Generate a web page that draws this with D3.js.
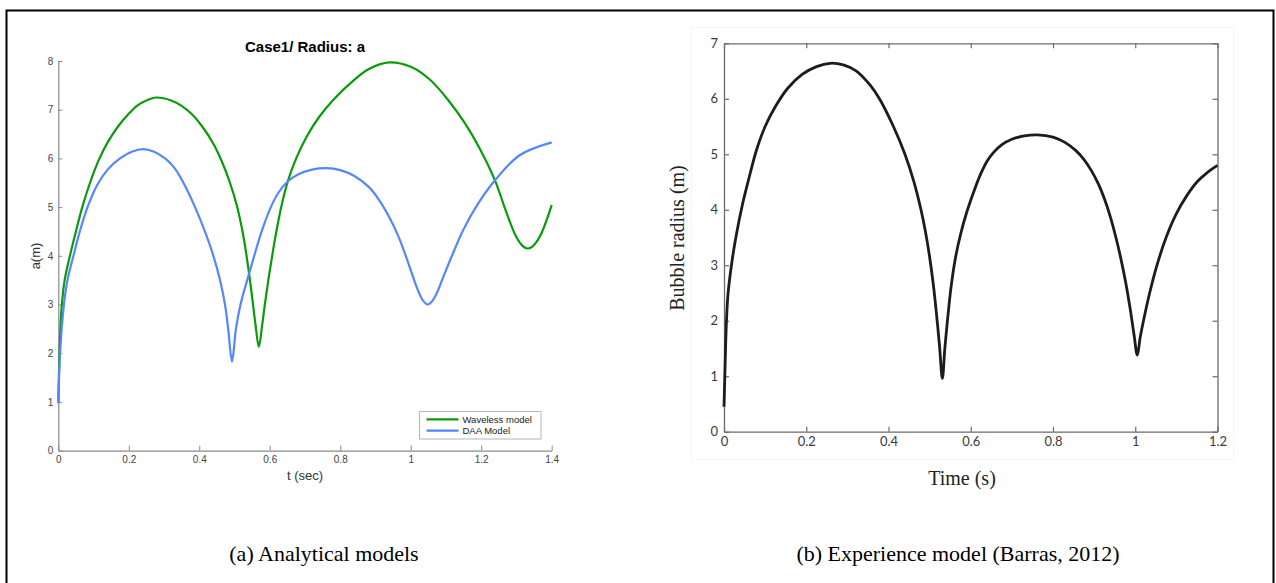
<!DOCTYPE html>
<html>
<head>
<meta charset="utf-8">
<script src="https://cdn.jsdelivr.net/npm/d3@7"></script>
<style>
  body { margin: 0; background: #fff; }
  svg { display: block; }
</style>
</head>
<body>
<div id="chart"></div>
<script>
// ---- data ----
// (a) analytical models
var wavelessT = [0, 0.004, 0.009, 0.018, 0.033, 0.05, 0.068, 0.09, 0.115, 0.14, 0.17, 0.198, 0.225, 0.25, 0.279, 0.32, 0.35, 0.38, 0.41, 0.44, 0.465, 0.487, 0.506, 0.52, 0.531, 0.541, 0.55, 0.559, 0.569, 0.578, 0.587, 0.597, 0.608, 0.62, 0.634, 0.652, 0.675, 0.705, 0.74, 0.78, 0.83, 0.88, 0.939, 1.0, 1.054, 1.106, 1.154, 1.196, 1.239, 1.272, 1.30, 1.318, 1.331, 1.345, 1.366, 1.40];
var wavelessA = [1.0, 2.1, 2.9, 3.5, 4.0, 4.5, 5.0, 5.5, 5.97, 6.33, 6.66, 6.9, 7.09, 7.19, 7.25, 7.19, 7.08, 6.9, 6.64, 6.3, 5.92, 5.5, 5.05, 4.6, 4.15, 3.65, 3.15, 2.62, 2.13, 2.55, 3.05, 3.55, 4.05, 4.55, 5.05, 5.55, 6.0, 6.45, 6.85, 7.2, 7.55, 7.83, 7.97, 7.88, 7.62, 7.2, 6.72, 6.2, 5.55, 4.88, 4.38, 4.2, 4.15, 4.19, 4.39, 5.04];

var daaT = [0, 0.005, 0.016, 0.026, 0.043, 0.061, 0.083, 0.11, 0.14, 0.175, 0.21, 0.241, 0.27, 0.303, 0.33, 0.355, 0.388, 0.416, 0.44, 0.459, 0.473, 0.482, 0.493, 0.504, 0.517, 0.536, 0.556, 0.577, 0.603, 0.625, 0.65, 0.68, 0.72, 0.761, 0.80, 0.84, 0.88, 0.91, 0.94, 0.965, 0.985, 1.005, 1.02, 1.035, 1.048, 1.06, 1.075, 1.09, 1.117, 1.149, 1.192, 1.239, 1.31, 1.40];
var daaA = [0.97, 2.0, 3.0, 3.5, 4.0, 4.5, 5.0, 5.45, 5.77, 6.0, 6.14, 6.19, 6.14, 6.0, 5.8, 5.5, 5.0, 4.5, 4.0, 3.5, 3.0, 2.5, 1.83, 2.5, 3.0, 3.5, 4.0, 4.5, 5.0, 5.3, 5.52, 5.67, 5.77, 5.80, 5.76, 5.64, 5.42, 5.15, 4.78, 4.4, 4.02, 3.6, 3.3, 3.08, 3.0, 3.06, 3.25, 3.52, 4.0, 4.53, 5.08, 5.55, 6.07, 6.33];

var leftXTicks = [0, 0.2, 0.4, 0.6, 0.8, 1, 1.2, 1.4];
var leftYTicks = [0, 1, 2, 3, 4, 5, 6, 7, 8];
var legendNames = ["Waveless model", "DAA Model"];

// (b) experience model (Barras, 2012)
var barrasT = [0, 0.002, 0.006, 0.01, 0.02, 0.03, 0.045, 0.06, 0.08, 0.1, 0.125, 0.155, 0.19, 0.225, 0.258, 0.29, 0.322, 0.355, 0.378, 0.412, 0.44, 0.462, 0.479, 0.49, 0.5, 0.509, 0.517, 0.524, 0.531, 0.537, 0.544, 0.552, 0.562, 0.575, 0.59, 0.61, 0.625, 0.64, 0.655, 0.675, 0.70, 0.73, 0.762, 0.80, 0.83, 0.855, 0.875, 0.893, 0.91, 0.925, 0.94, 0.953, 0.965, 0.977, 0.988, 0.997, 1.005, 1.012, 1.02, 1.035, 1.052, 1.075, 1.1, 1.125, 1.15, 1.175, 1.2];
var barrasR = [0.45, 1.0, 2.0, 2.5, 3.1, 3.55, 4.1, 4.55, 5.1, 5.5, 5.86, 6.19, 6.44, 6.58, 6.64, 6.61, 6.5, 6.25, 6.0, 5.5, 5.0, 4.5, 4.0, 3.6, 3.15, 2.65, 2.1, 1.55, 0.96, 1.5, 2.05, 2.6, 3.1, 3.55, 3.95, 4.38, 4.66, 4.88, 5.03, 5.17, 5.27, 5.33, 5.35, 5.31, 5.21, 5.07, 4.91, 4.71, 4.47, 4.2, 3.86, 3.5, 3.12, 2.68, 2.2, 1.75, 1.38, 1.7, 2.0, 2.5, 2.98, 3.5, 3.93, 4.25, 4.5, 4.67, 4.8];

var rightXTicks = [0, 0.2, 0.4, 0.6, 0.8, 1, 1.2];
var rightYTicks = [0, 1, 2, 3, 4, 5, 6, 7];

var W = 1276, H = 583;

var svg = d3.select("#chart").append("svg")
    .attr("width", W)
    .attr("height", H);

svg.append("rect").attr("width", W).attr("height", H).attr("fill", "#fff");

// outer frame of the figure
svg.append("path")
    .attr("d", "M6.5," + H + "V10.5H1273.5V" + H)
    .attr("fill", "none")
    .attr("stroke", "#000")
    .attr("stroke-width", 2);

// ---------------- left panel ----------------
var xL = d3.scaleLinear().domain([0, 1.4]).range([58.3, 551.7]);
var yL = d3.scaleLinear().domain([0, 8]).range([450.6, 61]);

var gL = svg.append("g");

var axL = gL.append("g")
    .attr("transform", "translate(" + xL(0) + ",0)")
    .call(d3.axisLeft(yL).tickValues(leftYTicks).tickSizeInner(-4).tickSizeOuter(0).tickPadding(5)
        .tickFormat(d3.format("~g")));
var axB = gL.append("g")
    .attr("transform", "translate(0," + yL(0) + ")")
    .call(d3.axisBottom(xL).tickValues(leftXTicks).tickSizeInner(-5).tickSizeOuter(0).tickPadding(5)
        .tickFormat(d3.format("~g")));

[axL, axB].forEach(function (a) {
    a.select(".domain").attr("stroke", "#8a8a8a").attr("stroke-width", 1.2);
    a.selectAll(".tick line").attr("stroke", "#8a8a8a");
    a.selectAll(".tick text")
        .style("font-family", "Liberation Sans, Arial, sans-serif")
        .style("font-size", "10px")
        .attr("fill", "#444");
});

var lineL = d3.line()
    .x(function (d) { return xL(d[0]); })
    .y(function (d) { return yL(d[1]); })
    .curve(d3.curveCatmullRom.alpha(0.5));

var waveless = wavelessT.map(function (t, i) { return [t, wavelessA[i]]; });
var daa = daaT.map(function (t, i) { return [t, daaA[i]]; });
var colorsL = ["#0a9a0a", "#5585ff"];

gL.append("path").datum(waveless)
    .attr("d", lineL).attr("fill", "none")
    .attr("stroke", colorsL[0]).attr("stroke-width", 2.2);
gL.append("path").datum(daa)
    .attr("d", lineL).attr("fill", "none")
    .attr("stroke", colorsL[1]).attr("stroke-width", 2.2);

gL.append("text")
    .attr("x", 305).attr("y", 52)
    .attr("text-anchor", "middle")
    .style("font-family", "Liberation Sans, Arial, sans-serif")
    .style("font-size", "15px").style("font-weight", "bold")
    .text("Case1/ Radius: a");

gL.append("text")
    .attr("transform", "translate(40,256) rotate(-90)")
    .attr("text-anchor", "middle")
    .style("font-family", "Liberation Sans, Arial, sans-serif")
    .style("font-size", "13px").attr("fill", "#333")
    .text("a(m)");

gL.append("text")
    .attr("x", 305).attr("y", 480)
    .attr("text-anchor", "middle")
    .style("font-family", "Liberation Sans, Arial, sans-serif")
    .style("font-size", "13px").attr("fill", "#333")
    .text("t (sec)");

// legend
var leg = gL.append("g").attr("transform", "translate(419.5,411.5)");
leg.append("rect").attr("width", 121.5).attr("height", 27.5)
    .attr("fill", "#fff").attr("stroke", "#b5b5b5");
legendNames.forEach(function (name, i) {
    leg.append("line")
        .attr("x1", 7).attr("x2", 39)
        .attr("y1", 7.8 + i * 11.4).attr("y2", 7.8 + i * 11.4)
        .attr("stroke", colorsL[i]).attr("stroke-width", 2.2);
    leg.append("text")
        .attr("x", 43).attr("y", 11.3 + i * 11.4)
        .style("font-family", "Liberation Sans, Arial, sans-serif")
        .style("font-size", "9.5px").attr("fill", "#222")
        .text(name);
});

// ---------------- right panel ----------------
var xR = d3.scaleLinear().domain([0, 1.2]).range([724, 1217.5]);
var yR = d3.scaleLinear().domain([0, 7]).range([431.7, 43.3]);

var gR = svg.append("g");

// faint edge of the pasted picture
gR.append("rect")
    .attr("x", 691.5).attr("y", 27.5).attr("width", 542).attr("height", 432)
    .attr("fill", "none").attr("stroke", "#f5f5f5");

var axesR = [
    gR.append("g").attr("transform", "translate(" + xR(0) + ",0)")
        .call(d3.axisLeft(yR).tickValues(rightYTicks).tickSizeInner(-5).tickSizeOuter(0).tickPadding(6)
            .tickFormat(d3.format("~g"))),
    gR.append("g").attr("transform", "translate(0," + yR(0) + ")")
        .call(d3.axisBottom(xR).tickValues(rightXTicks).tickSizeInner(-5).tickSizeOuter(0).tickPadding(5)
            .tickFormat(d3.format("~g"))),
    gR.append("g").attr("transform", "translate(" + xR(1.2) + ",0)")
        .call(d3.axisRight(yR).tickValues(rightYTicks).tickSizeInner(-5).tickSizeOuter(0).tickFormat("")),
    gR.append("g").attr("transform", "translate(0," + yR(7) + ")")
        .call(d3.axisTop(xR).tickValues(rightXTicks).tickSizeInner(-5).tickSizeOuter(0).tickFormat(""))
];
axesR.forEach(function (a) {
    a.select(".domain").attr("stroke", "#6a6a6a").attr("stroke-width", 1.3);
    a.selectAll(".tick line").attr("stroke", "#6a6a6a").attr("stroke-width", 1.2);
    a.selectAll(".tick text")
        .style("font-family", "Lato, 'Open Sans', sans-serif")
        .style("font-size", "13px")
        .attr("fill", "#3a3a3a");
});

var lineR = d3.line()
    .x(function (d) { return xR(d[0]); })
    .y(function (d) { return yR(d[1]); })
    .curve(d3.curveCatmullRom.alpha(0.5));

var barras = barrasT.map(function (t, i) { return [t, barrasR[i]]; });

gR.append("path").datum(barras)
    .attr("d", lineR).attr("fill", "none")
    .attr("stroke", "#1c1c1c").attr("stroke-width", 2.8)
    .attr("stroke-linejoin", "round");

gR.append("text")
    .attr("transform", "translate(684,238) rotate(-90)")
    .attr("text-anchor", "middle")
    .style("font-family", "Liberation Serif, 'Times New Roman', serif")
    .style("font-size", "20px").attr("fill", "#222")
    .text("Bubble radius (m)");

gR.append("text")
    .attr("x", 962).attr("y", 485)
    .attr("text-anchor", "middle")
    .style("font-family", "Liberation Serif, 'Times New Roman', serif")
    .style("font-size", "20px").attr("fill", "#222")
    .text("Time (s)");

// ---------------- captions ----------------
svg.append("text")
    .attr("x", 324).attr("y", 561)
    .attr("text-anchor", "middle")
    .style("font-family", "Liberation Serif, 'Times New Roman', serif")
    .style("font-size", "22px").attr("fill", "#000")
    .text("(a) Analytical models");

svg.append("text")
    .attr("x", 958).attr("y", 561)
    .attr("text-anchor", "middle")
    .style("font-family", "Liberation Serif, 'Times New Roman', serif")
    .style("font-size", "22px").attr("fill", "#000")
    .text("(b) Experience model (Barras, 2012)");
</script>
</body>
</html>
